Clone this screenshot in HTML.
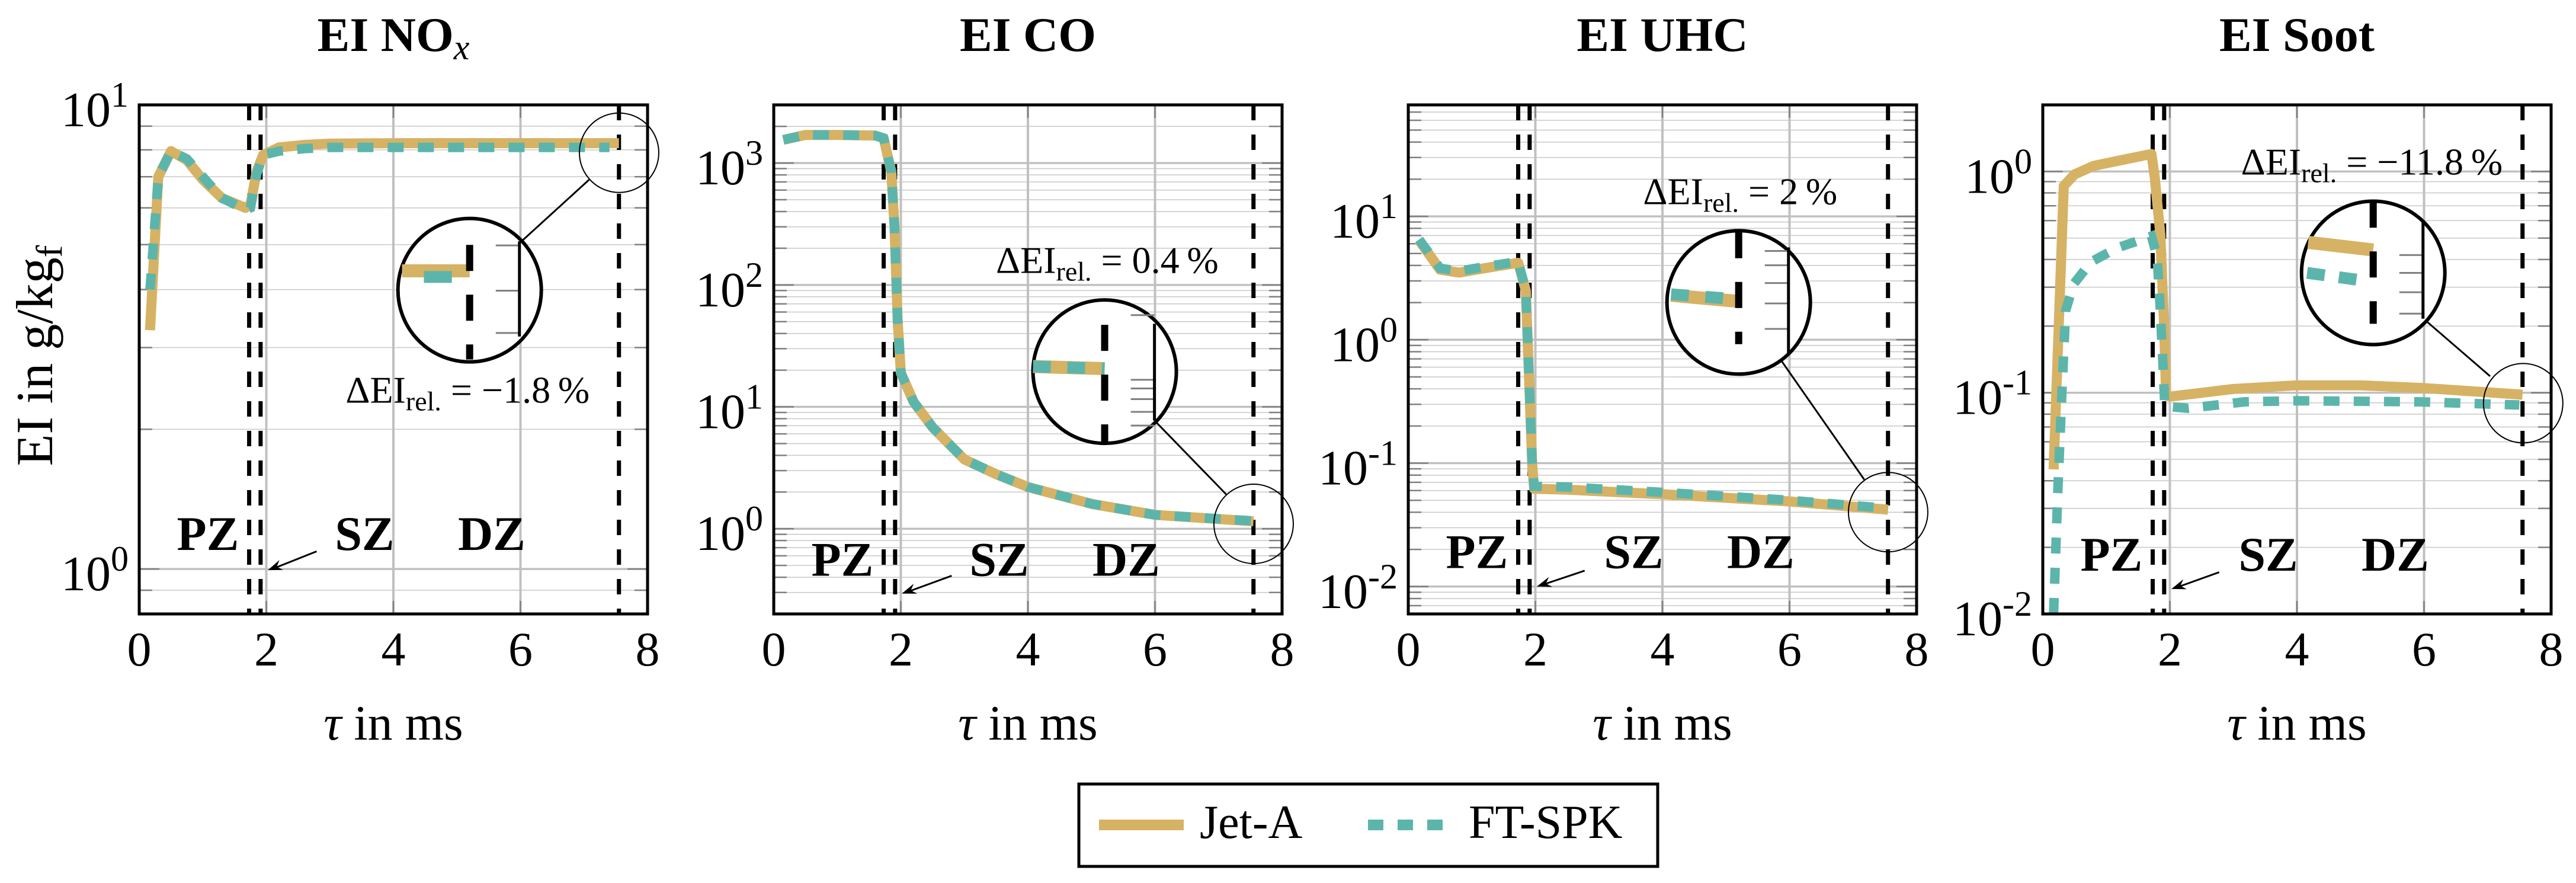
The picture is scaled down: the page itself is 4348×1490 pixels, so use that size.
<!DOCTYPE html>
<html><head><meta charset="utf-8"><style>
html,body{margin:0;padding:0;background:#fff;}
svg{display:block;font-family:"Liberation Serif","DejaVu Serif",serif;}
</style></head>
<body>
<svg id="chart" width="4348" height="1490" viewBox="0 0 4348 1490" xmlns="http://www.w3.org/2000/svg">
<g id="root"></g>
</svg>
<script>
// ---- data (tau in ms, EI in g/kg_f) ----
const xTicks = [0, 2, 4, 6, 8];
const zoneLines = [1.73, 1.91, 7.55];
const panelTitles = ["EI NO", "EI CO", "EI UHC", "EI Soot"];
const deltaLabels = ["\u22121.8\u2009%", "0.4\u2009%", "2\u2009%", "\u221211.8\u2009%"];
const yMins = [0.8, 0.2, 0.006, 0.01];
const yMaxs = [10, 3000, 80, 2];
const yTickExps = [[0, 1], [0, 1, 2, 3], [-2, -1, 0, 1], [-2, -1, 0]];

const noxJetX = [0.17, 0.3, 0.5, 0.75, 1.0, 1.3, 1.67, 1.75, 1.85, 1.95, 2.2, 2.6, 3.0, 4.0, 5.5, 7.55];
const noxJetY = [3.27, 7.0, 7.95, 7.6, 6.9, 6.3, 6.0, 6.1, 7.2, 7.8, 8.1, 8.2, 8.25, 8.27, 8.27, 8.27];
const noxFtX  = [0.17, 0.3, 0.5, 0.75, 1.0, 1.3, 1.67, 1.75, 1.85, 1.95, 2.2, 2.6, 3.0, 4.0, 5.5, 7.4];
const noxFtY  = [4.0, 7.0, 7.95, 7.65, 7.0, 6.3, 5.95, 6.0, 7.1, 7.8, 7.95, 8.05, 8.1, 8.1, 8.1, 8.1];

const coJetX = [0.15, 0.5, 1.0, 1.6, 1.73, 1.85, 1.9, 1.95, 2.0, 2.2, 2.5, 3.0, 3.5, 4.0, 5.0, 6.0, 7.55];
const coJetY = [1550, 1700, 1700, 1680, 1600, 850, 300, 52, 19, 11, 6.8, 3.7, 2.8, 2.2, 1.6, 1.3, 1.15];
const coFtX  = [0.15, 0.5, 1.0, 1.6, 1.73, 1.85, 1.9, 1.95, 2.0, 2.2, 2.5, 3.0, 3.5, 4.0, 5.0, 6.0, 7.55];
const coFtY  = [1550, 1700, 1700, 1680, 1600, 850, 300, 52, 19, 11, 6.8, 3.7, 2.8, 2.2, 1.6, 1.3, 1.16];

const uhcJetX = [0.17, 0.5, 0.8, 1.2, 1.73, 1.85, 1.9, 1.95, 1.98, 2.5, 4.0, 6.0, 7.55];
const uhcJetY = [6.4, 3.7, 3.5, 3.8, 4.2, 2.5, 0.5, 0.1, 0.062, 0.061, 0.056, 0.049, 0.042];
const uhcFtX  = [0.17, 0.5, 0.8, 1.2, 1.73, 1.85, 1.9, 1.95, 1.98, 2.5, 4.0, 6.0, 7.55];
const uhcFtY  = [6.5, 3.8, 3.6, 3.9, 4.3, 2.5, 0.5, 0.1, 0.065, 0.064, 0.058, 0.050, 0.043];

const sootJetX = [0.17, 0.33, 0.5, 0.8, 1.2, 1.71, 1.76, 1.85, 1.91, 1.94, 2.0, 3.0, 4.0, 5.0, 6.0, 7.55];
const sootJetY = [0.045, 0.86, 0.97, 1.06, 1.12, 1.2, 0.95, 0.52, 0.2, 0.097, 0.096, 0.104, 0.108, 0.108, 0.105, 0.098];
const sootFtX  = [0.17, 0.235, 0.3, 0.36, 0.485, 0.76, 1.16, 1.71, 1.8, 1.85, 1.9, 1.92, 2.28, 3.18, 4.0, 5.9, 7.5];
const sootFtY  = [0.01, 0.035, 0.099, 0.235, 0.31, 0.39, 0.45, 0.51, 0.41, 0.235, 0.118, 0.087, 0.085, 0.091, 0.092, 0.091, 0.088];

const jetXs = [noxJetX, coJetX, uhcJetX, sootJetX];
const jetYs = [noxJetY, coJetY, uhcJetY, sootJetY];
const ftXs  = [noxFtX, coFtX, uhcFtX, sootFtX];
const ftYs  = [noxFtY, coFtY, uhcFtY, sootFtY];

// ---- layout ----
const NS = "http://www.w3.org/2000/svg";
const root = document.getElementById("root");
const LEFTS = [235, 1306, 2377, 3448];
const W = 858, TOP = 177, BOT = 1036, H = BOT - TOP;
const GOLD = "#D6B264", TEAL = "#5CB5AB";
const L10 = Math.log10;

// inset / annotation geometry as plot fractions (layout, not data)
const insets = [
 {big:[0.65,0.364], small:[0.944,0.094], ln:[0.885,0.147,0.752,0.268], dash:[0.65,0.275,0.50], solid:[0.748,0.268,0.455], ticks:[0.276,0.365,0.448],
  segs:[[GOLD,0.517,0.326,0.65,0.326,null],[TEAL,0.56,0.338,0.615,0.338,null]], ann:[0.406,0.585], zl:0.874, ar:[0.349,0.877,0.253,0.914]},
 {big:[0.651,0.524], small:[0.944,0.823], ln:[0.89,0.765,0.749,0.62], dash:[0.651,0.432,0.663], solid:[0.749,0.43,0.62], ticks:[0.413,0.54,0.557,0.578,0.603,0.63],
  segs:[[GOLD,0.51,0.514,0.651,0.518,null],[TEAL,0.51,0.514,0.651,0.518,"30 28"]], ann:[0.437,0.33], zl:0.925, ar:[0.35,0.925,0.252,0.96]},
 {big:[0.65,0.388], small:[0.944,0.80], ln:[0.897,0.736,0.735,0.504], dash:[0.65,0.25,0.47], solid:[0.748,0.28,0.49], ticks:[0.287,0.315,0.35,0.39,0.44],
  segs:[[GOLD,0.517,0.374,0.65,0.386,null],[TEAL,0.517,0.372,0.65,0.382,"30 28"]], ann:[0.462,0.195], zl:0.91, ar:[0.347,0.915,0.253,0.946]},
 {big:[0.65,0.33], small:[0.945,0.586], ln:[0.88,0.533,0.757,0.427], dash:[0.65,0.19,0.43], solid:[0.748,0.23,0.42], ticks:[0.295,0.33,0.368,0.41],
  segs:[[GOLD,0.522,0.27,0.65,0.285,null],[TEAL,0.52,0.33,0.63,0.345,"30 24"]], ann:[0.39,0.137], zl:0.915, ar:[0.347,0.918,0.253,0.951]}
];

function el(tag, attrs, parent) {
  const e = document.createElementNS(NS, tag);
  for (const k in attrs) e.setAttribute(k, attrs[k]);
  (parent || root).appendChild(e);
  return e;
}

for (let p = 0; p < 4; p++) {
  const left = LEFTS[p];
  const ymin = yMins[p], ymax = yMaxs[p];
  const X = x => left + x / 8 * W;
  const Y = v => BOT - (L10(v) - L10(ymin)) / (L10(ymax) - L10(ymin)) * H;
  const FX = f => left + f * W, FY = f => TOP + f * H;
  const g = el("g", {});
  
  

  const e0 = Math.floor(L10(ymin)), e1 = Math.ceil(L10(ymax));
  for (let e = e0; e <= e1; e++) {
    for (let m = 1; m <= 9; m++) {
      const v = m * Math.pow(10, e);
      if (v < ymin * 0.999 || v > ymax * 1.001) continue;
      const y = Y(v);
      const major = m === 1;
      const gl = el("line", {x1:left, x2:left+W, y1:y, y2:y, stroke: major ? "#c0c0c0" : "#c8c8c8", "stroke-width": major ? 3.5 : 1.5}, g);
      
      
      const tl = major ? 34 : 22;
      el("line", {x1:left, x2:left+tl, y1:y, y2:y, stroke:"#808080", "stroke-width":2.5}, g);
      el("line", {x1:left+W-tl, x2:left+W, y1:y, y2:y, stroke:"#808080", "stroke-width":2.5}, g);
    }
  }
  for (const t of xTicks) {
    if (t === 0 || t === 8) continue;
    const vg = el("line", {x1:X(t), x2:X(t), y1:TOP, y2:BOT, stroke:"#c0c0c0", "stroke-width":4}, g);
    
    
    el("line", {x1:X(t), x2:X(t), y1:TOP, y2:TOP+22, stroke:"#808080", "stroke-width":2.5}, g);
    el("line", {x1:X(t), x2:X(t), y1:BOT-22, y2:BOT, stroke:"#808080", "stroke-width":2.5}, g);
  }
  for (const z of zoneLines) {
    const zl = el("line", {x1:X(z), x2:X(z), y1:TOP, y2:BOT, stroke:"#000", "stroke-width":7, "stroke-dasharray":"26 24"}, g);
    
    
  }
  const mk = (xs, ys) => xs.map((x, i) => (i ? "L" : "M") + X(x).toFixed(1) + " " + Y(ys[i]).toFixed(1)).join(" ");
  const sj = el("path", {d: mk(jetXs[p], jetYs[p]), fill:"none", stroke:GOLD, "stroke-width":17, "stroke-linejoin":"round"}, g);
  
  
  const sf = el("path", {d: mk(ftXs[p], ftYs[p]), fill:"none", stroke:TEAL, "stroke-width":16, "stroke-dasharray":"27 24"}, g);
  
  

  const I = insets[p];
  const ins = el("g", {}, g);
  
  
  el("circle", {cx:FX(I.big[0]), cy:FY(I.big[1]), r:121, fill:"#fff", stroke:"#000", "stroke-width":6}, ins);
  for (const t of I.ticks) el("line", {x1:FX(I.solid[0])-40, x2:FX(I.solid[0]), y1:FY(t), y2:FY(t), stroke:"#808080", "stroke-width":3}, ins);
  el("line", {x1:FX(I.solid[0]), x2:FX(I.solid[0]), y1:FY(I.solid[1]), y2:FY(I.solid[2]), stroke:"#000", "stroke-width":5}, ins);
  for (const s of I.segs) {
    const a = {x1:FX(s[1]), y1:FY(s[2]), x2:FX(s[3]), y2:FY(s[4]), stroke:s[0], "stroke-width":s[0]===GOLD?22:20};
    if (s[5]) a["stroke-dasharray"] = s[5];
    el("line", a, ins);
  }
  el("line", {x1:FX(I.dash[0]), x2:FX(I.dash[0]), y1:FY(I.dash[1]), y2:FY(I.dash[2]), stroke:"#000", "stroke-width":12, "stroke-dasharray":"44 40"}, ins);
  el("circle", {cx:FX(I.small[0]), cy:FY(I.small[1]), r:67, fill:"none", stroke:"#000", "stroke-width":2}, ins);
  el("line", {x1:FX(I.ln[0]), y1:FY(I.ln[1]), x2:FX(I.ln[2]), y2:FY(I.ln[3]), stroke:"#000", "stroke-width":3}, ins);

  const an = el("text", {x:FX(I.ann[0]), y:FY(I.ann[1]), "font-size":64}, g);
  
  
  an.appendChild(document.createTextNode("\u0394EI"));
  const sub = el("tspan", {dy:13, "font-size":46}, an); sub.textContent = "rel.";
  const rest = el("tspan", {dy:-13}, an); rest.textContent = " = " + deltaLabels[p];

  const zlabels = [["PZ",0.074],["SZ",0.385],["DZ",0.627]];
  for (const z of zlabels) {
    const t = el("text", {x:FX(z[1]), y:FY(I.zl), "font-size":82, "font-weight":"bold"}, g);
    
    
    t.textContent = z[0];
  }
  const ax1 = FX(I.ar[0]), ay1 = FY(I.ar[1]), ax2 = FX(I.ar[2]), ay2 = FY(I.ar[3]);
  const arr = el("line", {x1:ax1, y1:ay1, x2:ax2+10, y2:ay2-3, stroke:"#000", "stroke-width":3}, g);
  
  
  const ang = Math.atan2(ay2-ay1, ax2-ax1);
  const hp = (a, l) => (ax2 - l*Math.cos(ang+a)).toFixed(1) + "," + (ay2 - l*Math.sin(ang+a)).toFixed(1);
  el("polygon", {points: ax2+","+ay2+" "+hp(0.35,26)+" "+hp(0,16)+" "+hp(-0.35,26), fill:"#000"}, g);

  const fr = el("rect", {x:left, y:TOP, width:W, height:H, fill:"none", stroke:"#000", "stroke-width":5}, g);
  
  

  for (const t of xTicks) {
    const tx = el("text", {x:X(t), y:1123, "font-size":82, "text-anchor":"middle"}, g);
    
    
    tx.textContent = t;
  }
  for (const e of yTickExps[p]) {
    const ty = el("text", {x:left-18, y:Y(Math.pow(10, e))+36, "font-size":84, "text-anchor":"end"}, g);
    
    
    ty.appendChild(document.createTextNode("10"));
    const sp = el("tspan", {dy:-33, "font-size":60}, ty); sp.textContent = e < 0 ? "-" + (-e) : "" + e;
  }
  const xt = el("text", {x:left+W/2, y:1248, "font-size":84, "text-anchor":"middle"}, g);
  
  
  const tau = el("tspan", {"font-style":"italic"}, xt); tau.textContent = "\u03C4";
  const xr = el("tspan", {}, xt); xr.textContent = " in ms";
  const tt = el("text", {x:left+W/2, y:86, "font-size":82, "font-weight":"bold", "text-anchor":"middle"}, g);
  
  
  tt.appendChild(document.createTextNode(panelTitles[p]));
  if (p === 0) { const sx = el("tspan", {dy:14, "font-size":60, "font-style":"italic", "font-weight":"normal"}, tt); sx.textContent = "x"; }
}

const yt = el("text", {transform:"translate(88,600) rotate(-90)", "font-size":88, "text-anchor":"middle"});


yt.appendChild(document.createTextNode("EI in g/kg"));
const ysub = el("tspan", {dy:16, "font-size":62}, yt); ysub.textContent = "f";

const lg = el("g", {});


el("rect", {x:1821, y:1323, width:977, height:139, fill:"#fff", stroke:"#000", "stroke-width":5}, lg);
const l1 = el("line", {x1:1855, x2:1998, y1:1392, y2:1392, stroke:GOLD, "stroke-width":18}, lg);


const t1 = el("text", {x:2025, y:1414, "font-size":80}, lg); t1.textContent = "Jet-A";
const l2 = el("line", {x1:2309, x2:2436, y1:1392, y2:1392, stroke:TEAL, "stroke-width":18, "stroke-dasharray":"26 24"}, lg);


const t2 = el("text", {x:2479, y:1414, "font-size":80}, lg); t2.textContent = "FT-SPK";
</script>
</body></html>
